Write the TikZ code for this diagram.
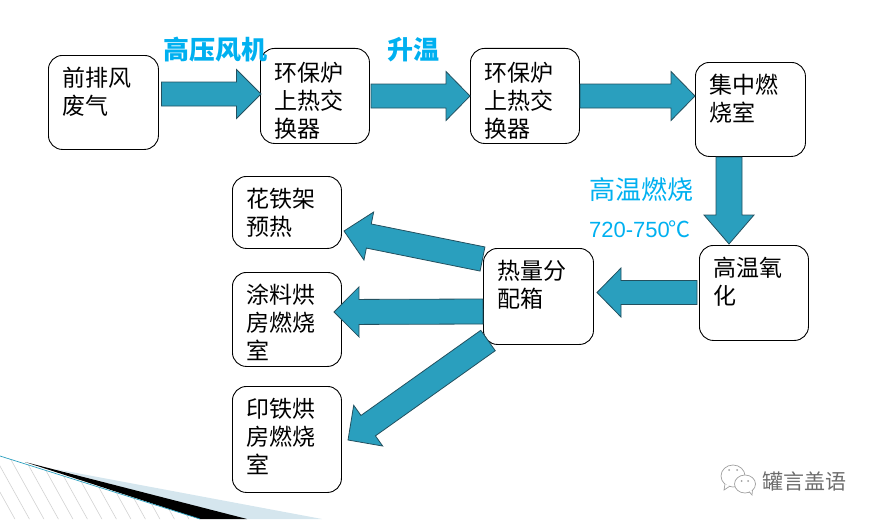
\documentclass[tikz,border=0pt]{standalone}
\usepackage{fontspec}
\setmainfont{Noto Sans CJK SC}
\newfontfamily\latinf{Liberation Sans}
\usetikzlibrary{calc}
\definecolor{flowblue}{HTML}{2A9FBE}
\definecolor{flowedge}{HTML}{23505F}
\definecolor{labelblue}{HTML}{00B0F0}
\definecolor{wedgeblue}{HTML}{D5E6EE}
\newcommand{\boxtext}[3]{\parbox[c][#2pt][t]{#1pt}{\fontsize{23}{28}\selectfont\vspace*{12pt}#3}}
\newcommand{\blockarrow}[5]{%
  \coordinate (hb) at ($(#1)!#3pt!(#2)$);
  \draw[flow] ($(#1)!#4pt!90:(#2)$) -- ($(hb)!#4pt!90:(#2)$) -- ($(hb)!#5pt!90:(#2)$) -- (#2)
    -- ($(hb)!#5pt!-90:(#2)$) -- ($(hb)!#4pt!-90:(#2)$) -- ($(#1)!#4pt!-90:(#2)$) -- cycle;}
\tikzset{
  x=1pt,y=-1pt,
  procbox/.style={draw=black,line width=0.9pt,rounded corners=14pt,fill=white,inner sep=0pt,anchor=north west},
  flow/.style={draw=flowedge,line width=0.8pt,fill=flowblue,line join=miter},
  headline/.style={text=labelblue,inner sep=0pt,anchor=west},
}
\begin{document}
\begin{tikzpicture}
\useasboundingbox (0,0) rectangle (874,519);
% corner decoration
\begin{scope}
  \clip (0,519) -- (0,456) -- (200,519) -- cycle;
  \foreach \i in {-2,...,16}{
    \draw[gray!35,line width=0.6pt] (\i*14.5,440) -- ++(50,90);
  }
\end{scope}
\fill[wedgeblue] (55,469) -- (322,519) -- (240,519) -- cycle;
\fill[black] (25,462) -- (247,519) -- (200,519) -- cycle;
\draw[flowblue,line width=0.7pt] (0,456) -- (200,519);
% boxes
\node[procbox] (n1) at (48,55) {\hspace{14pt}\boxtext{96}{94}{前排风\\废气}};
\node[procbox] (n2) at (260,48) {\hspace{14pt}\boxtext{95}{95}{\vspace*{2pt}环保炉\\上热交\\换器}};
\node[procbox] (n3) at (470,48) {\hspace{14pt}\boxtext{95}{95}{\vspace*{2pt}环保炉\\上热交\\换器}};
\node[procbox] (n4) at (695,62) {\hspace{14pt}\boxtext{96}{94}{集中燃\\烧室}};
\node[procbox] (n5) at (699,245) {\hspace{14pt}\boxtext{95}{95}{高温氧\\化}};
\node[procbox] (n6) at (483,248) {\hspace{14pt}\boxtext{96}{96}{热量分\\配箱}};
\node[procbox] (n7) at (232,176) {\hspace{14pt}\boxtext{95}{72}{花铁架\\预热}};
\node[procbox] (n8) at (232,272) {\hspace{14pt}\boxtext{95}{94}{涂料烘\\房燃烧\\室}};
\node[procbox] (n9) at (232,386) {\hspace{14pt}\boxtext{95}{106}{印铁烘\\房燃烧\\室}};
% connector ends
\coordinate (a1s) at (161.5,94);   \coordinate (a1e) at (261,94);
\coordinate (a2s) at (371,96);     \coordinate (a2e) at (470,96);
\coordinate (a3s) at (580,96);     \coordinate (a3e) at (695,96);
\coordinate (a4s) at (729,157);    \coordinate (a4e) at (729,244);
\coordinate (a5s) at (697,292.5);  \coordinate (a5e) at (597,292.5);
\coordinate (a6s) at (482.5,259);  \coordinate (a6e) at (344,231);
\coordinate (a7s) at (483,311.5);  \coordinate (a7e) at (334,312);
\coordinate (a8s) at (488,340.5);  \coordinate (a8e) at (348,440);
\blockarrow{a1s}{a1e}{75}{12}{24.5}
\blockarrow{a2s}{a2e}{75}{12}{24.5}
\blockarrow{a3s}{a3e}{91}{12}{24.5}
\blockarrow{a4s}{a4e}{58}{13}{25}
\blockarrow{a5s}{a5e}{76}{12}{24.5}
\blockarrow{a6s}{a6e}{116}{12.3}{24.5}
\blockarrow{a7s}{a7e}{124}{12.5}{25}
\blockarrow{a8s}{a8e}{147}{12.5}{25}
% labels
\node[headline,font=\fontsize{26}{30}\selectfont\bfseries] (t1) at (163,50) {高压风机};
\node[headline,font=\fontsize{26}{30}\selectfont\bfseries] (t2) at (387,50) {升温};
\node[headline,font=\fontsize{26}{30}\selectfont] (t3) at (589,190) {高温燃烧};
\node[headline,font=\fontsize{22}{26}\selectfont] (t4) at (589,229) {{\latinf 720-750}\hspace{-1pt}℃};
% watermark
\begin{scope}[gray!75,line width=0.7pt]
  \draw[fill=white] (733,476) ellipse (12 and 11);
  \draw[fill=white] (725,484) -- (724,490) -- (730,486);
  \draw[fill=white] (745,484) ellipse (10.5 and 9);
  \draw[fill=white] (749,491.5) -- (752,495) -- (752.5,490);
  \fill (729,470) circle (1) (737,470) circle (1) (741.5,481) circle (1) (748,481) circle (1);
\end{scope}
\node[inner sep=0pt,anchor=west,text=gray!85!black,font=\fontsize{21}{24}\selectfont] (wm) at (762,481) {罐言盖语};
\end{tikzpicture}
\end{document}
